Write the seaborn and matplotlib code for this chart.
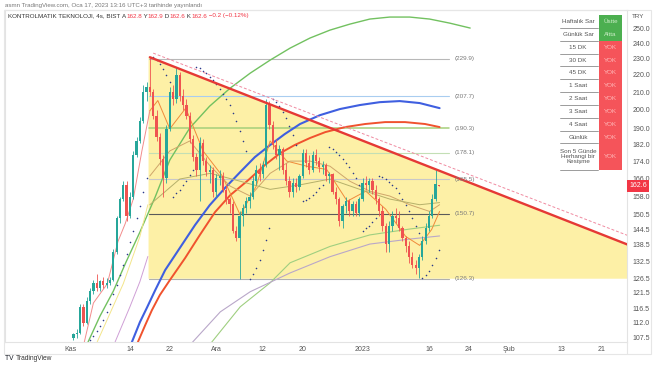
import matplotlib

matplotlib.use("Agg")
import matplotlib.pyplot as plt
import numpy as np
import seaborn as sns
from matplotlib.ticker import NullLocator, NullFormatter, FixedLocator

# ---------------- data (x = BIST trading day since 1 Kasım 2022) ----------------
candle_day = np.arange(0.5, 56.0, 0.5)
candle_open = [107.5, 108.5, 109, 117, 112, 119, 122, 125, 123, 125.5, 124, 125, 126, 136, 149, 157, 163, 150,
               158, 177, 184, 194, 210, 213, 210, 197, 186, 175, 166, 190, 210, 206, 220, 208, 203, 197, 185, 176,
               170, 183, 174, 169, 170, 160, 166, 167, 161, 157, 155, 144, 141, 150, 153, 156, 158, 165, 170, 168,
               172, 203, 192, 182, 177, 180, 170, 165, 160, 164, 162, 167, 178, 173, 170, 177, 174, 171, 172, 167,
               168, 160, 157, 148, 154, 156, 152, 155, 151, 157, 164, 163, 165, 161, 157, 152, 146, 139, 146, 150,
               149, 145, 141, 138, 134, 131, 130, 134, 140, 145, 150, 157, 162.8]
candle_high = [109, 110, 118, 118, 120, 123, 126, 128, 126, 127, 126.5, 127, 137, 150, 158, 165, 165, 160,
               179, 186, 196, 214, 216, 230.9, 212, 200, 188, 177, 192, 213, 214, 225, 222, 212, 206, 199, 187, 178,
               186, 185, 176, 172, 171, 168, 170, 169, 163, 158, 156, 146, 152, 155, 158, 160, 167, 172, 173, 174,
               206, 205, 194, 185, 182, 181, 173, 167, 166, 166, 168, 180, 180, 177, 179, 180, 176, 174, 173, 169,
               168.5, 162, 158, 155, 158, 157, 156, 156, 158, 166, 167, 166, 166, 163, 158, 154, 147, 148, 152, 153,
               152, 146, 142, 140, 136, 133, 135, 142, 147, 152, 159, 170, 162.9]
candle_low = [107, 107.5, 108.5, 111, 111.5, 118, 121, 122, 122, 123, 123, 124, 125.5, 135, 147, 156, 148, 149,
              157, 176, 183, 193, 205, 208, 195, 184, 172, 158, 164, 189, 203, 204, 205, 200, 195, 183, 174, 167,
              156, 172, 167, 164, 158, 158, 163, 160, 155, 151, 143, 140, 126.3, 146, 151, 153, 157, 163, 165, 166,
              171, 190, 180, 175, 170, 168, 163, 158, 158, 160, 161, 166, 171, 168, 169, 172, 169, 168, 165, 164,
              159, 155, 146, 145, 151, 150, 150, 150, 150, 156, 161, 160, 159, 155, 150, 144, 136, 136, 144, 147,
              144, 140, 136, 132, 130, 128, 126.5, 133, 139, 144, 149, 156, 162.6]
candle_close = [108.5, 109, 117, 112, 119, 122, 125, 123, 125.5, 124, 125, 126, 136, 149, 157, 163, 150, 158,
                177, 184, 194, 210, 213, 210, 197, 186, 175, 166, 190, 210, 206, 220, 208, 203, 197, 185, 176, 170,
                183, 174, 169, 170, 160, 166, 167, 161, 157, 155, 144, 141, 150, 153, 156, 158, 165, 170, 168, 172,
                203, 192, 182, 177, 180, 170, 165, 160, 164, 162, 167, 178, 173, 170, 177, 174, 171, 172, 167, 168,
                160, 157, 148, 154, 156, 152, 155, 151, 157, 164, 163, 165, 161, 157, 152, 146, 139, 146, 150, 149,
                145, 141, 138, 134, 131, 130, 134, 140, 145, 150, 157, 163.5, 162.6]

# moving averages / bands
green_day = [1.8, 2.7, 4.5, 6.5, 8.4, 10.5, 12.8, 15.0, 18.0, 21.0, 24.1, 27.1, 30.1, 33.1, 36.1, 39.1, 42.1,
             45.1, 48.1, 51.1, 54.1, 57.1, 60.2]
green_val = [103.0, 106.3, 114.1, 122.1, 132.1, 143.4, 157.8, 174.5, 190.4, 202.1, 212.3, 221.1, 229.1, 236.7,
             243.3, 248.6, 252.7, 256.2, 257.6, 257.6, 256.2, 253.4, 250.0]
blue_day = [9.0, 9.3, 10.5, 11.6, 12.8, 14.3, 16.5, 18.8, 21.0, 23.3, 25.6, 27.8, 30.1, 32.3, 34.6, 37.6, 40.6,
            43.6, 46.6, 49.6, 52.6, 55.6]
blue_val = [105.0, 106.3, 112.2, 116.9, 122.4, 129.3, 137.3, 146.2, 154.3, 161.7, 168.9, 175.9, 181.8, 187.3,
            192.5, 197.2, 200.5, 202.7, 204.3, 204.9, 203.8, 201.0]
red_day = [10.0, 10.2, 11.3, 12.3, 13.5, 15.0, 17.3, 19.5, 21.8, 24.1, 26.8, 29.3, 31.6, 33.8, 36.1, 38.4, 41.4,
           44.4, 47.4, 50.4, 53.4, 55.6]
red_val = [105.5, 106.3, 111.3, 115.9, 120.8, 125.8, 133.6, 142.2, 151.4, 158.6, 165.2, 172.1, 177.8, 181.8,
           185.3, 188.3, 190.9, 192.5, 193.5, 193.5, 192.5, 190.9]
pink_day = [2.1, 3.5, 5.6, 7.2, 8.3, 9.5, 10.8, 12.0]
pink_val = [106.0, 118.2, 124.6, 139.8, 146.8, 156.9, 178.9, 199.6]
yellow_day = [4.0, 8.0, 10.5, 11.7]
yellow_val = [106.0, 124.6, 141.7, 154.5]
purple_day = [6.7, 9.0, 10.5, 11.7]
purple_val = [106.0, 117.0, 125.3, 134.2]
lowgreen_day = [21.2, 25.6, 30.1, 33.1, 39.1, 45.1, 51.1, 55.6]
lowgreen_val = [106.0, 117.0, 124.9, 131.9, 137.9, 142.3, 144.6, 146.1]
lowpurple_day = [18.3, 22.6, 27.1, 33.1, 39.1, 45.1, 51.1, 55.6]
lowpurple_val = [106.0, 115.4, 121.9, 128.3, 134.1, 138.8, 140.7, 141.9]
orange_day = [12.0, 13.2, 15.0, 17.4, 20.0, 22.9, 25.6, 28.0, 30.1, 32.6, 35.6, 38.6, 41.7, 44.5, 47.5, 50.5,
              52.6, 54.4, 55.6]
orange_val = [199.6, 205.2, 190.0, 201.0, 178.9, 167.1, 150.2, 162.5, 183.8, 174.0, 171.6, 170.1, 156.0, 160.3,
              152.6, 141.7, 138.3, 144.4, 151.7]
tan_day = [12.0, 15.0, 18.0, 21.1, 24.1, 27.1, 30.1, 33.1, 36.1, 39.1, 42.1, 45.1, 48.1, 51.1, 54.1, 55.6]
tan_val = [167.1, 178.9, 183.8, 171.6, 162.5, 158.2, 168.3, 174.0, 174.0, 171.6, 164.7, 160.3, 158.2, 154.5,
           151.7, 154.5]
olive_day = [12.0, 16.5, 21.1, 25.6, 30.1, 34.6, 39.1, 43.6, 48.1, 52.6, 55.6]
olive_val = [154.5, 165.7, 168.3, 164.7, 161.1, 163.1, 165.7, 161.1, 156.9, 154.5, 155.4]

# parabolic SAR dots
sar_day = ([3.0 + 0.5 * i for i in range(18)] + [12.5 + 0.5 * i for i in range(6)]
           + [15.5 + 0.5 * i for i in range(7)] + [19.0 + 0.5 * i for i in range(16)]
           + [27.0 + 0.5 * i for i in range(7)] + [30.5 + 0.5 * i for i in range(8)]
           + [35.0 + 0.5 * i for i in range(7)] + [39.0 + 0.5 * i for i in range(10)]
           + [44.0 + 0.5 * i for i in range(5)] + [46.5 + 0.5 * i for i in range(13)]
           + [53.0 + 0.5 * i for i in range(6)])
sar_val = ([107, 108, 109.5, 111, 113, 115.5, 118, 121, 124, 127.5, 131, 135, 139.5, 144, 149, 154, 160, 166]
           + [231, 229, 226.5, 223.5, 220, 216]
           + [158, 159.5, 161, 163, 165, 167.5, 170]
           + [225, 224, 222.5, 221, 219, 217, 214.5, 212, 209, 206, 202.5, 198.5, 194, 189, 184, 179]
           + [126.3, 128, 130, 133, 136.5, 140.5, 145]
           + [206, 204.5, 202, 199, 195.5, 191.5, 187, 182]
           + [156, 156.5, 157.5, 158.5, 160, 161.5, 163]
           + [181, 180, 178.5, 177, 175, 173, 171, 168.5, 166, 163]
           + [144, 145, 146, 147.5, 149]
           + [167, 166.5, 165.5, 164.5, 163, 161.5, 159.5, 157, 154.5, 152, 149, 146, 143]
           + [126.5, 127.5, 129, 131, 133.5, 136.5])

# drawings
trend_day = [12.0, 84.0]
trend_val = [230.9, 138.5]
dash_day = [12.5, 84.0]
dash_val = [233.5, 142.0]
tri_day = [11.8, 84.0, 84.0, 11.8]
tri_val = [230.9, 138.5, 126.3, 126.3]
levels = [229.9, 207.7, 190.3, 178.1, 165.5, 150.7, 126.3]
level_colors = ["#b8b8b8", "#a9cdf0", "#a5cf7a", "#c3dfb5", "#c8c8c8", "#5a5a5a", "#b0b0b0"]
level_start, level_end, level_label = 11.8, 57.0, 57.8

price_ticks = [250.0, 240.0, 230.0, 220.0, 210.0, 200.0, 190.0, 182.0, 174.0, 166.0, 158.0, 150.5, 144.5,
               138.5, 132.5, 126.5, 121.5, 116.5, 112.0, 107.5]
date_pos = [0, 9, 15, 22, 29, 35, 44, 54, 60, 66, 74, 80]
date_labels = ["Kas", "14", "22", "Ara", "12", "20", "2023", "16", "24", "Şub", "13", "21"]

table_names = ["Haftalık Sar", "Günlük Sar", "15 DK", "30 DK", "45 DK", "1 Saat", "2 Saat", "3 Saat",
               "4 Saat", "Günlük", "Son 5 Günde\nHerhangi bir\nKesişme"]
table_values = ["Üstte", "Altta", "YOK", "YOK", "YOK", "YOK", "YOK", "YOK", "YOK", "YOK", "YOK"]

last_price = 162.6

# ---------------- figure ----------------
W, H = 654, 366


def fx(px):
    return px / W


def fy(py):
    return 1 - py / H


sns.set_theme(style="white")
plt.rcParams["font.family"] = ["Liberation Sans", "DejaVu Sans"]

fig = plt.figure(figsize=(W / 100, H / 100), dpi=100)
fig.patch.set_facecolor("white")
ax = fig.add_axes([fx(5), fy(342), fx(627) - fx(5), fy(10) - fy(342)])
ax.set_yscale("log")
ax.set_xlim(-9.8, 83.8)
ax.set_ylim(106.3, 262.6)
ax.set_facecolor("white")

# triangle + level lines
ax.fill(tri_day, tri_val, color="#fdf0a6", zorder=0.5, lw=0)
for lv, lc in zip(levels, level_colors):
    ax.plot([level_start, level_end], [lv, lv], color=lc, lw=0.8 if lv != 190.3 else 1.1, zorder=1)
    ax.text(level_label, lv, f"({lv})", fontsize=4.6, color="#7a7a7a", va="center", ha="left", zorder=5)

# moving averages
lines = [
    (green_day, green_val, "#72c160", 1.0),
    (blue_day, blue_val, "#3f5fe0", 1.5),
    (red_day, red_val, "#f0522e", 1.4),
    (pink_day, pink_val, "#f28c8c", 0.7),
    (yellow_day, yellow_val, "#f3e58a", 0.7),
    (purple_day, purple_val, "#cf9fd6", 0.7),
    (lowgreen_day, lowgreen_val, "#9fcf80", 0.8),
    (lowpurple_day, lowpurple_val, "#b9a7c9", 0.8),
    (orange_day, orange_val, "#f08a3a", 0.7),
    (tan_day, tan_val, "#cfa56a", 0.7),
    (olive_day, olive_val, "#b5b06a", 0.7),
]
for d, v, c, lw in lines:
    sns.lineplot(x=d, y=v, ax=ax, color=c, linewidth=lw, sort=False, estimator=None, zorder=2)

# candles
o = np.array(candle_open)
c = np.array(candle_close)
up = c >= o
cols = np.where(up, "#26a69a", "#ef5350")
ax.vlines(candle_day, candle_low, candle_high, colors=cols, linewidth=0.6, zorder=3)
ax.bar(candle_day, np.maximum(np.abs(c - o), 0.3), bottom=np.minimum(o, c), width=0.34,
       color=cols, linewidth=0, zorder=3.1)

sns.scatterplot(x=sar_day, y=sar_val, ax=ax, s=1.3, color="#2b3a8c", linewidth=0, zorder=3.5)

ax.plot(dash_day, dash_val, color="#f08aa0", lw=0.7, ls=(0, (3, 2)), zorder=3.8)
ax.plot(trend_day, trend_val, color="#e53935", lw=1.7, zorder=4)

# axes styling
ax.yaxis.tick_right()
ax.yaxis.set_major_locator(FixedLocator(price_ticks))
ax.yaxis.set_minor_locator(NullLocator())
ax.yaxis.set_minor_formatter(NullFormatter())
ax.set_yticklabels([f"{v:.1f}" for v in price_ticks])
ax.set_xticks(date_pos)
ax.set_xticklabels(date_labels)
ax.tick_params(axis="both", length=0, labelsize=5.0, colors="#555555")
ax.tick_params(axis="y", pad=4)
ax.tick_params(axis="x", pad=3)
ax.set_xlabel("")
ax.set_ylabel("")
ax.grid(False)
for s in ax.spines.values():
    s.set_color("#e3e3e3")
    s.set_linewidth(0.8)

ytr = ax.get_yaxis_transform()
ax.text(1.004, last_price, f"{last_price}", transform=ytr, ha="left", va="center", fontsize=5.0,
        color="white", bbox=dict(boxstyle="square,pad=0.3", fc="#f23645", ec="none"), zorder=6)
ax.text(1.008, 258.3, "TRY", transform=ytr, ha="left", va="center", fontsize=4.5, color="#555555")

# outer frame
fig.add_artist(plt.Rectangle((fx(4), fy(354)), fx(651) - fx(4), fy(10) - fy(354), transform=fig.transFigure,
                             fill=False, ec="#e6e6e6", lw=0.8))
fig.add_artist(plt.Line2D([fx(627), fx(627)], [fy(342), fy(354)], transform=fig.transFigure,
                          color="#e6e6e6", lw=0.8))

# table
bounds = [15, 28, 41, 54, 66, 79, 92, 105, 118, 131, 143, 170]
for i, (name, val) in enumerate(zip(table_names, table_values)):
    y0, y1 = bounds[i], bounds[i + 1]
    ok = val != "YOK"
    fc = "#4caf50" if ok else "#f5545a"
    tc = "#c9ecc4" if ok else "#ffb8b8"
    fig.add_artist(plt.Rectangle((fx(557), fy(y1)), fx(599) - fx(557), fy(y0) - fy(y1),
                                 transform=fig.transFigure, fc="white", ec="none", zorder=7))
    fig.add_artist(plt.Rectangle((fx(599), fy(y1)), fx(622) - fx(599), fy(y0) - fy(y1),
                                 transform=fig.transFigure, fc=fc, ec="none", zorder=7))
    fig.add_artist(plt.Line2D([fx(560), fx(598)], [fy(y1), fy(y1)], transform=fig.transFigure,
                              color="#8c8c8c", lw=0.6, zorder=8))
    fig.text(fx(578), fy((y0 + y1) / 2), name, ha="center", va="center", fontsize=4.5, color="#555555",
             linespacing=1.1, zorder=9)
    fig.text(fx(610.5), fy((y0 + y1) / 2), val, ha="center", va="center", fontsize=4.5, color=tc, zorder=9)

# header texts
renderer = fig.canvas.get_renderer()


def chain(parts, x, y, size):
    for txt, col in parts:
        t = fig.text(x, y, txt, fontsize=size, color=col, ha="left", va="center")
        x += t.get_window_extent(renderer=renderer).width / W


fig.text(fx(5), fy(5), "asmn TradingView.com, Oca 17, 2023 13:16 UTC+3 tarihinde yayınlandı",
         fontsize=4.4, color="#777777", ha="left", va="center")
red = "#f23645"
chain([("KONTROLMATIK TEKNOLOJI, 4s, BIST ", "#333333"), ("A", "#333333"), ("162.8", red), (" Y", "#333333"),
       ("162.9", red), (" D", "#333333"), ("162.6", red), (" K", "#333333"), ("162.6", red),
       (" −0.2 (−0.12%)", red)], fx(8), fy(16), 4.5)
chain([("TV ", "#131722"), ("TradingView", "#333333")], fx(5), fy(358), 4.8)

fig.savefig("out.png", dpi=100)
plt.close(fig)
